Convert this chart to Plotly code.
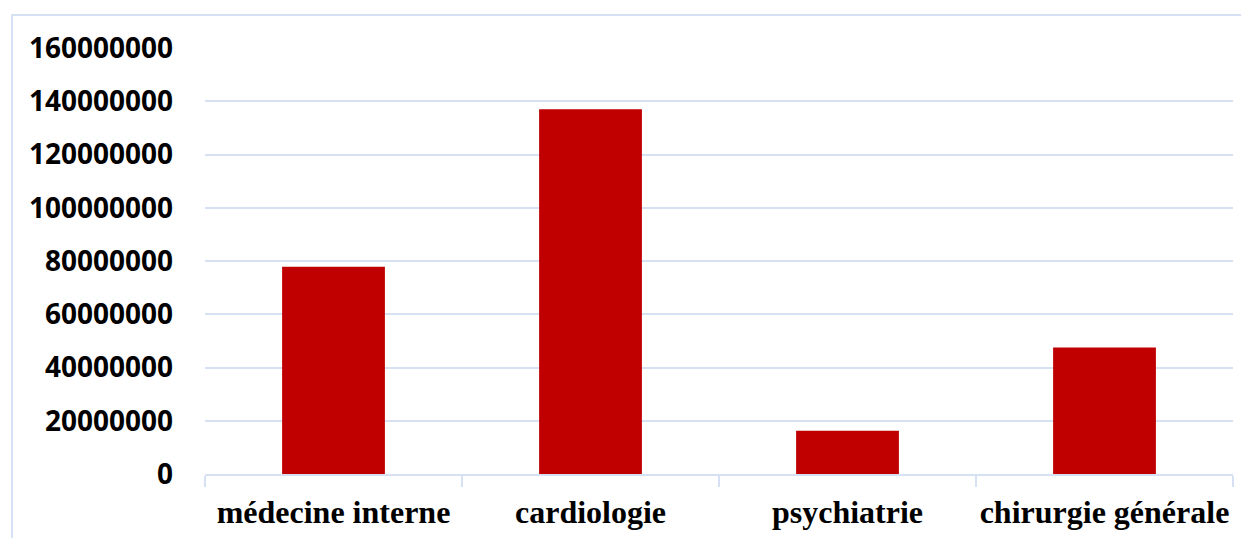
import plotly.graph_objects as go

categories = ["médecine interne", "cardiologie", "psychiatrie", "chirurgie générale"]
values = [77_800_000, 137_000_000, 16_200_000, 47_500_000]
y_ticks = [0, 20_000_000, 40_000_000, 60_000_000, 80_000_000,
           100_000_000, 120_000_000, 140_000_000, 160_000_000]

GRID = "#d6e1f3"

fig = go.Figure(
    go.Bar(
        x=categories,
        y=values,
        marker={"color": "#c00000", "line": {"width": 0}},
    )
)

# the page body has an 8px margin, so margins are shifted to compensate
fig.update_layout(
    width=1249,
    height=538,
    paper_bgcolor="white",
    plot_bgcolor="white",
    margin={"l": 197, "r": 24, "t": 40, "b": 72, "pad": 0},
    bargap=0.6,
    showlegend=False,
    shapes=[
        # chart-area border, partly cut off by the frame on the right and bottom
        dict(
            type="rect", xref="paper", yref="paper",
            x0=-0.1877, x1=1.1, y0=-0.3, y1=1.0775,
            line={"color": GRID, "width": 2}, fillcolor="rgba(0,0,0,0)",
            layer="below",
        )
    ],
)

fig.update_xaxes(
    automargin=False,
    tickangle=0,
    showgrid=False,
    showline=True,
    linecolor=GRID,
    linewidth=2,
    ticks="outside",
    tickson="boundaries",
    ticklen=11,
    tickwidth=2,
    tickcolor=GRID,
    ticklabelstandoff=9,
    tickfont={"family": "Liberation Serif", "size": 32, "color": "black", "weight": "bold"},
)

fig.update_yaxes(
    automargin=False,
    range=[0, 160_000_000],
    tickvals=y_ticks,
    ticktext=[str(v) for v in y_ticks],
    showgrid=True,
    gridcolor=GRID,
    gridwidth=2,
    zeroline=False,
    showline=False,
    ticklabelstandoff=31,
    tickfont={"family": "Open Sans", "size": 28, "color": "black", "weight": "bold"},
)

fig.write_html("out.html")
